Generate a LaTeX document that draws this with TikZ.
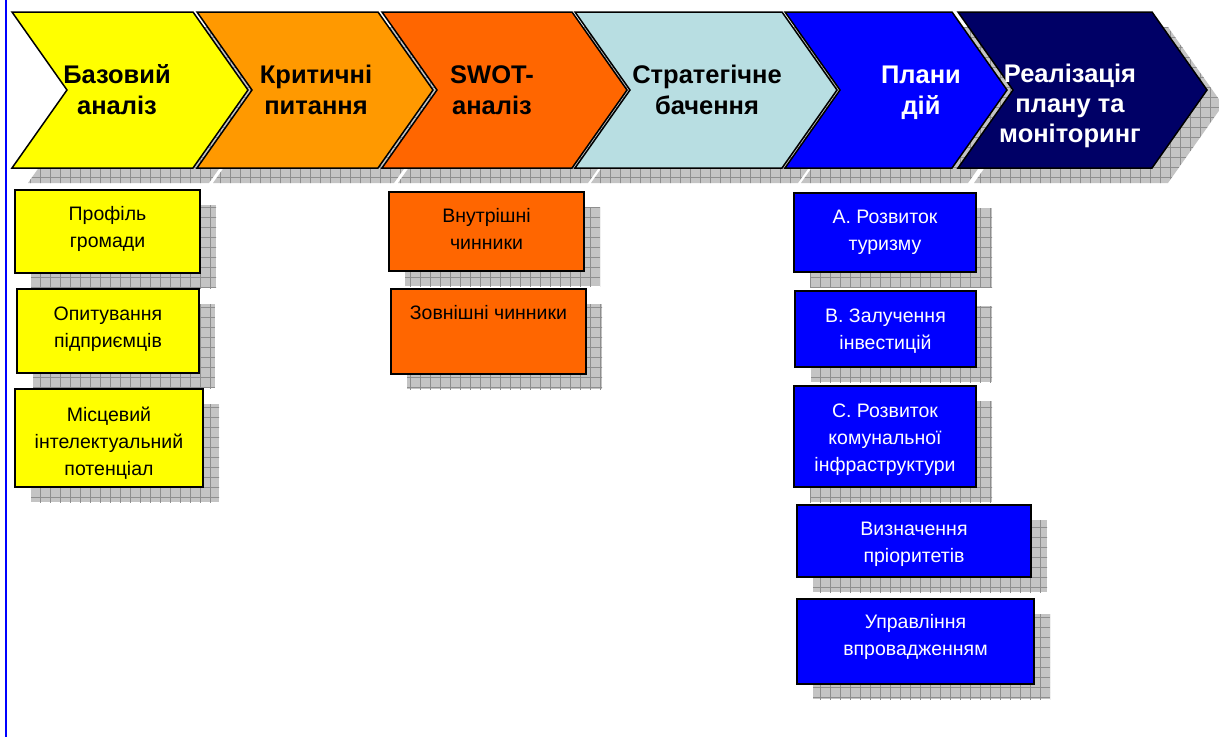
\documentclass[tikz,border=0pt]{standalone}
\usepackage{fontspec}
\setmainfont{Liberation Sans}
\usetikzlibrary{patterns.meta}
\definecolor{cyel}{HTML}{FFFF00}
\definecolor{corng}{HTML}{FF9900}
\definecolor{cred}{HTML}{FF6600}
\definecolor{clblue}{HTML}{B8DEE2}
\definecolor{cblue}{HTML}{0000FF}
\definecolor{cnavy}{HTML}{000066}
\definecolor{shadowgray}{HTML}{C4C4C4}
\definecolor{gridgray}{HTML}{8E8E8E}
\pgfdeclarelayer{bg}
\pgfsetlayers{bg,main}
\tikzset{
  shd/.style={preaction={fill=shadowgray}, pattern={Hatch[angle=0,distance=10pt,line width=0.7pt]}, pattern color=gridgray},
  chev/.style={draw=black, line width=1.5pt, line join=miter},
  box/.style={draw=black, line width=2pt, anchor=north west, inner sep=0pt, outer sep=0pt},
  ctext/.style={font=\fontsize{25.5}{31.5}\selectfont\bfseries, align=center, anchor=base, inner sep=0pt},
  btext/.style={font=\fontsize{19.5}{27}\selectfont, align=center, anchor=base, inner sep=0pt},
}
\begin{document}
\begin{tikzpicture}[x=1pt,y=-1pt]
\useasboundingbox (0,0) rectangle (1219,737);
\begin{pgfonlayer}{bg}
\fill[white] (0,0) rectangle (1219,737);
\end{pgfonlayer}
\draw[cblue, line width=2pt] (6,0) -- (6,737);
% chevron shadows
\begin{pgfonlayer}{bg}
\foreach \l/\r in {12/193, 197/378, 382/572, 575/782, 785/952, 958/1152} {
  \path[shd, shift={(16,15)}] (\l,12) -- (\r,12) -- (\r+55,90) -- (\r,168) -- (\l,168) -- (\l+55,90) -- cycle;
}
\end{pgfonlayer}
% chevrons
\foreach \l/\r/\c in {12/193/cyel, 197/378/corng, 382/572/cred, 575/782/clblue, 785/952/cblue, 958/1152/cnavy} {
  \path[chev, fill=\c] (\l,12) -- (\r,12) -- (\r+55,90) -- (\r,168) -- (\l,168) -- (\l+55,90) -- cycle;
}
% anchor=base is the baseline of the last line
\node[ctext] (t1) at (117,114.5) {Базовий\\аналіз};
\node[ctext] (t2) at (316,114.5) {Критичні\\питання};
\node[ctext] (t3) at (492,114.5) {SWOT-\\аналіз};
\node[ctext] (t4) at (707,114.5) {Стратегічне\\бачення};
\node[ctext, text=white] (t5) at (921,114.5) {Плани\\дій};
\node[ctext, text=white, font=\fontsize{25.5}{30}\selectfont\bfseries] (t6) at (1070,142) {Реалізація\\плану та\\моніторинг};
% boxes
\node[box, fill=cyel, minimum width=185pt, minimum height=83pt] (p1) at (15,190) {};
\node[box, fill=cyel, minimum width=182pt, minimum height=84pt] (p2) at (17,289) {};
\node[box, fill=cyel, minimum width=188pt, minimum height=98pt] (p3) at (15,389) {};
\node[box, fill=cred, minimum width=195pt, minimum height=79pt] (s1) at (389,192) {};
\node[box, fill=cred, minimum width=195pt, minimum height=85pt] (s2) at (391,289) {};
\node[box, fill=cblue, minimum width=182pt, minimum height=79pt] (a1) at (794,193) {};
\node[box, fill=cblue, minimum width=181pt, minimum height=76pt] (a2) at (795,291) {};
\node[box, fill=cblue, minimum width=182pt, minimum height=101pt] (a3) at (794,386) {};
\node[box, fill=cblue, minimum width=234pt, minimum height=72pt] (a4) at (797,505) {};
\node[box, fill=cblue, minimum width=237pt, minimum height=85pt] (a5) at (797,599) {};
\begin{pgfonlayer}{bg}
\foreach \n in {p1,p2,p3,s1,s2,a1,a2,a3,a4,a5} {
  \path[shd] ([shift={(16,15)}]\n.north west) rectangle ([shift={(16,15)}]\n.south east);
}
\end{pgfonlayer}
% box labels
\node[btext] (lp1) at ([yshift=-57pt]p1.north) {Профіль\\громади};
\node[btext] (lp2) at ([yshift=-58pt]p2.north) {Опитування\\підприємців};
\node[btext] (lp3) at ([yshift=-86pt]p3.north) {Місцевий\\інтелектуальний\\потенціал};
\node[btext] (ls1) at ([yshift=-57pt]s1.north) {Внутрішні\\чинники};
\node[btext] (ls2) at ([yshift=-30pt]s2.north) {Зовнішні чинники};
\node[btext, text=white] (la1) at ([yshift=-57pt]a1.north) {A. Розвиток\\туризму};
\node[btext, text=white] (la2) at ([yshift=-58pt]a2.north) {B. Залучення\\інвестицій};
\node[btext, text=white] (la3) at ([yshift=-85pt]a3.north) {C. Розвиток\\комунальної\\інфраструктури};
\node[btext, text=white] (la4) at ([yshift=-57pt]a4.north) {Визначення\\пріоритетів};
\node[btext, text=white] (la5) at ([yshift=-56pt]a5.north) {Управління\\впровадженням};
\end{tikzpicture}
\end{document}
